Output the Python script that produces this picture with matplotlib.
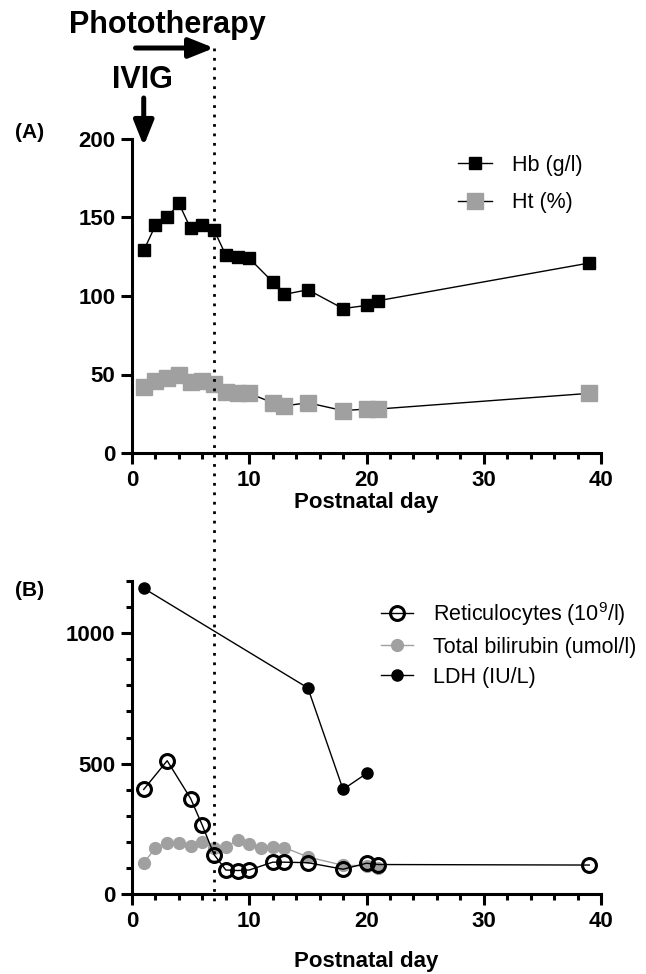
import matplotlib
matplotlib.use('Agg')
import matplotlib.pyplot as plt
import matplotlib.transforms as mtransforms
from matplotlib.lines import Line2D
from matplotlib.ticker import MultipleLocator

plt.rcParams['font.family'] = ['Liberation Sans', 'DejaVu Sans']
plt.rcParams['mathtext.fontset'] = 'custom'
plt.rcParams['mathtext.rm'] = 'Liberation Sans'

# Panel A: haemoglobin / haematocrit
hb_days = [1, 2, 3, 4, 5, 6, 7, 8, 9, 10, 12, 13, 15, 18, 20, 21, 39]
hb_vals = [129, 145, 150, 159, 143, 145, 142, 126, 125, 124, 109, 101, 104, 92, 94, 97, 121]
ht_days = [1, 2, 3, 4, 5, 6, 7, 8, 9, 10, 12, 13, 15, 18, 20, 21, 39]
ht_vals = [42, 46, 48, 50, 45, 46, 44, 39, 38, 38, 32, 30, 32, 27, 28, 28, 38]

# Panel B: reticulocytes, bilirubin, LDH
ret_days = [1, 3, 5, 6, 7, 8, 9, 10, 12, 13, 15, 18, 20, 21, 39]
ret_vals = [401, 511, 366, 263, 151, 92, 90, 92, 122, 122, 120, 95, 118, 113, 111]
bili_days = [1, 2, 3, 4, 5, 6, 7, 8, 9, 10, 11, 12, 13, 15, 18, 20, 21]
bili_vals = [118, 178, 196, 196, 183, 199, 175, 180, 206, 191, 175, 180, 178, 142, 110, 108, 100]
ldh_days = [1, 15, 18, 20]
ldh_vals = [1172, 790, 401, 462]

grey = '#a0a0a0'
W, H = 646, 974

fig = plt.figure(figsize=(W / 100, H / 100), dpi=100)
ax_a = fig.add_axes([132 / W, 1 - 453 / H, (601 - 132) / W, (453 - 139) / H])
ax_b = fig.add_axes([132 / W, 1 - 894 / H, (601 - 132) / W, (894 - 581) / H])


def style_axis(ax, labelpad):
    for side in ['top', 'right']:
        ax.spines[side].set_visible(False)
    for side in ['left', 'bottom']:
        ax.spines[side].set_linewidth(2.2)
    ax.tick_params(which='major', length=8, width=2.2, labelsize=16, pad=4)
    ax.tick_params(which='minor', length=4.5, width=2.2)
    for lab in ax.get_xticklabels() + ax.get_yticklabels():
        lab.set_fontweight('bold')
    ax.set_xlim(0, 40)
    ax.xaxis.set_major_locator(MultipleLocator(10))
    ax.xaxis.set_minor_locator(MultipleLocator(2))
    ax.set_xlabel('Postnatal day', fontsize=16, fontweight='bold', labelpad=labelpad)


# (A)
ax_a.plot(ht_days, ht_vals, color='black', lw=1, marker='s', ms=11,
          mfc=grey, mec=grey, clip_on=False, zorder=3)
ax_a.plot(hb_days, hb_vals, color='black', lw=1, marker='s', ms=8.5,
          mfc='black', mec='black', clip_on=False, zorder=4)
ax_a.set_ylim(0, 200)
ax_a.yaxis.set_major_locator(MultipleLocator(50))
style_axis(ax_a, 1)

leg_a = [
    Line2D([], [], color='black', lw=1, marker='s', ms=8.5, mfc='black', mec='black'),
    Line2D([], [], color='black', lw=1, marker='s', ms=11, mfc=grey, mec=grey),
]
ax_a.legend(leg_a, ['Hb (g/l)', 'Ht (%)'], loc='upper left',
            bbox_to_anchor=(458 / W, 1 - 155 / H), bbox_transform=fig.transFigure,
            frameon=False, fontsize=15.5, handlelength=1.6, handletextpad=0.9,
            labelspacing=0.75, borderpad=0, borderaxespad=0)

# (B)
ax_b.plot(bili_days, bili_vals, color=grey, lw=1, marker='o', ms=8.5,
          mfc=grey, mec=grey, clip_on=False, zorder=3)
ax_b.plot(ret_days, ret_vals, color='black', lw=1, marker='o', ms=10,
          mfc='none', mec='black', mew=2.2, clip_on=False, zorder=4)
ax_b.plot(ldh_days, ldh_vals, color='black', lw=1, marker='o', ms=8,
          mfc='black', mec='black', clip_on=False, zorder=4)
ax_b.set_ylim(0, 1200)
ax_b.yaxis.set_major_locator(MultipleLocator(500))
ax_b.yaxis.set_minor_locator(MultipleLocator(100))
style_axis(ax_b, 14)

leg_b = [
    Line2D([], [], color='black', lw=1, marker='o', ms=10, mfc='none', mec='black', mew=2.2),
    Line2D([], [], color=grey, lw=1, marker='o', ms=8.5, mfc=grey, mec=grey),
    Line2D([], [], color='black', lw=1, marker='o', ms=8, mfc='black', mec='black'),
]
ax_b.legend(leg_b, ['Reticulocytes (10$^{9}$/l)', 'Total bilirubin (umol/l)', 'LDH (IU/L)'],
            loc='upper left', bbox_to_anchor=(381 / W, 1 - 600 / H),
            bbox_transform=fig.transFigure, frameon=False, fontsize=15.5,
            handlelength=1.5, handletextpad=0.9, labelspacing=0.42,
            borderpad=0, borderaxespad=0)

# panel letters
fig.text(30 / W, 1 - 133 / H, '(A)', fontsize=15, fontweight='bold', ha='center', va='center')
fig.text(30 / W, 1 - 590 / H, '(B)', fontsize=15, fontweight='bold', ha='center', va='center')

# treatment markers: dotted line at the end of phototherapy (day 7), across both panels
blend = mtransforms.blended_transform_factory(ax_a.transData, fig.transFigure)
fig.add_artist(Line2D([7, 7], [1 - 48 / H, 1 - 905 / H], transform=blend,
                      color='black', lw=2, ls=(0, (1, 2.4)), zorder=1))

arrow = dict(arrowstyle='-|>,head_length=0.6,head_width=0.24', lw=3.6,
             mutation_scale=25, color='black', shrinkA=0, shrinkB=0)
ax_a.annotate('', xy=(7, 1 - 48 / H), xytext=(0.3, 1 - 48 / H),
              xycoords=('data', 'figure fraction'),
              textcoords=('data', 'figure fraction'), arrowprops=arrow)
ax_a.annotate('', xy=(1, 1 - 146 / H), xytext=(1, 1 - 98 / H),
              xycoords=('data', 'figure fraction'),
              textcoords=('data', 'figure fraction'), arrowprops=arrow)

fig.text(167 / W, 1 - 25 / H, 'Phototherapy', fontsize=22, fontweight='bold',
         ha='center', va='center')
fig.text(142 / W, 1 - 80 / H, 'IVIG', fontsize=22, fontweight='bold',
         ha='center', va='center')

fig.savefig('out.png', dpi=100)
